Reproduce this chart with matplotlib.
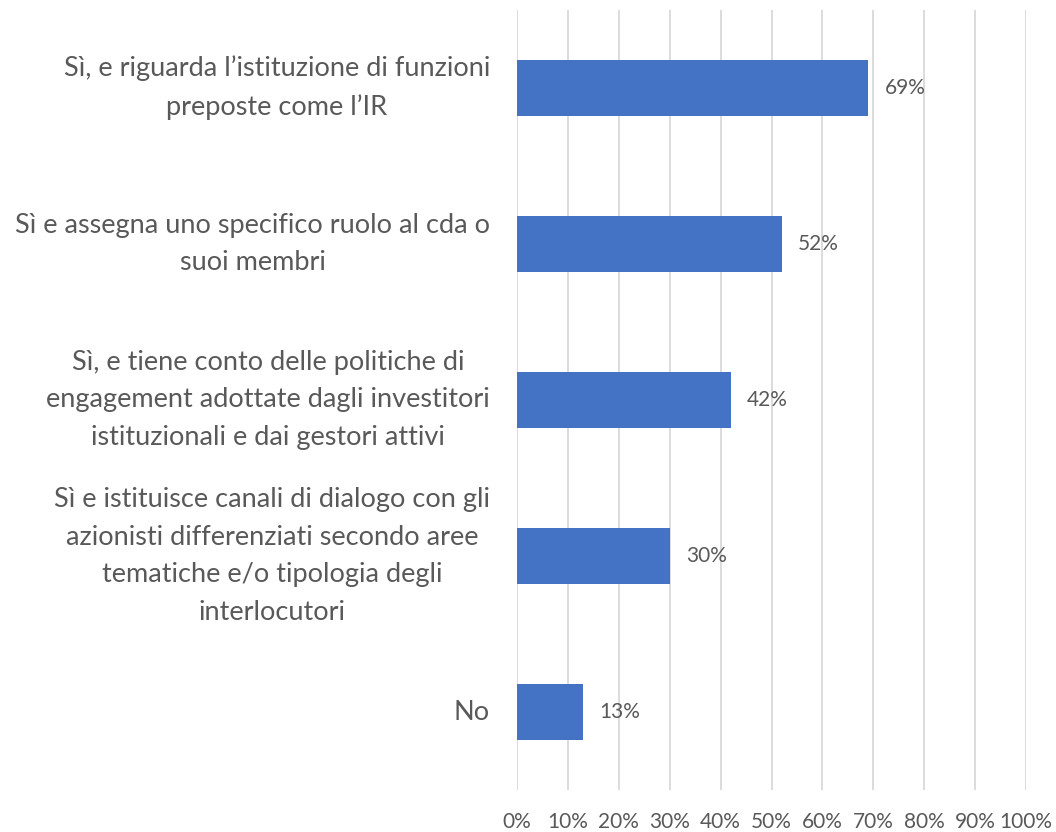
import matplotlib
matplotlib.use("Agg")
import matplotlib.pyplot as plt
from matplotlib.ticker import PercentFormatter
from matplotlib.transforms import blended_transform_factory, offset_copy

categories = [
    "Sì, e riguarda l’istituzione di funzioni\npreposte come l’IR",
    "Sì e assegna uno specifico ruolo al cda o\nsuoi membri",
    "Sì, e tiene conto delle politiche di\nengagement adottate dagli investitori\nistituzionali e dai gestori attivi",
    "Sì e istituisce canali di dialogo con gli\nazionisti differenziati secondo aree\ntematiche e/o tipologia degli\ninterlocutori",
    "No",
]
values = [69, 52, 42, 30, 13]
xticks = list(range(0, 101, 10))

plt.rcParams['font.family'] = ['Lato', 'DejaVu Sans']
text_color = '#595959'

fig = plt.figure(figsize=(10.56, 8.32), dpi=100)
ax = fig.add_axes([517/1056, 1 - 790/832, (1026 - 517)/1056, 780/832])

pos = list(range(len(categories)))
ax.barh(pos, values, height=0.355, color='#4472C4', zorder=3)
for p, v in zip(pos, values):
    ax.text(v + 3.2, p, f"{v}%", va='center', ha='left', fontsize=15, color=text_color, zorder=4)

ax.set_xlim(0, 100)
ax.set_ylim(len(categories) - 0.5, -0.5)
ax.set_xticks(xticks)
ax.xaxis.set_major_formatter(PercentFormatter(decimals=0))
ax.set_yticks(pos)
ax.set_yticklabels([])
trans = offset_copy(blended_transform_factory(ax.transAxes, ax.transData), fig=fig, x=-27, y=0, units='dots')
for p, c in zip(pos, categories):
    ax.text(0, p, c, transform=trans, ha='right', va='center', multialignment='center',
            fontsize=19.5, color=text_color, linespacing=1.63)
ax.tick_params(axis='x', length=0, pad=16, labelsize=15, labelcolor=text_color)
ax.tick_params(axis='y', length=0)
ax.grid(axis='x', color='#d9d9d9', linewidth=1.3, zorder=0)
for s in ax.spines.values():
    s.set_visible(False)

fig.savefig("out.png", dpi=100)
